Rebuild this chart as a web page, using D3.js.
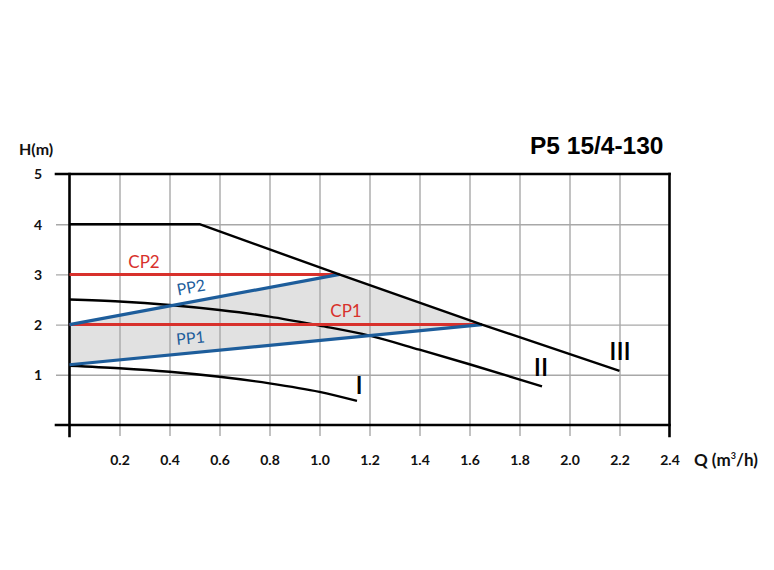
<!DOCTYPE html>
<html><head><meta charset="utf-8">
<script src="https://cdn.jsdelivr.net/npm/d3@7/dist/d3.min.js"></script>
<style>body{margin:0;background:#fff}svg{display:block}</style>
</head><body>
<svg id="c" width="774" height="570"></svg>
<script>
const title = "P5 15/4-130";
const xTicks = [0.2,0.4,0.6,0.8,1.0,1.2,1.4,1.6,1.8,2.0,2.2,2.4];
const yTicks = [1,2,3,4,5];
const curveIII = [[0,4],[0.52,4],[1.09,2.98],[1.65,2.0],[2.2,1.08]];
const curveII = [[0,2.5],[0.2,2.46],[0.4,2.39],[0.6,2.29],[0.8,2.16],[1.0,1.98],[1.2,1.78],[1.4,1.5],[1.6,1.21],[1.89,0.77]];
const curveI = [[0,1.18],[0.2,1.13],[0.4,1.06],[0.6,0.96],[0.8,0.83],[1.0,0.66],[1.15,0.48]];
const CP2 = [[0,3],[1.08,3]];
const PP2 = [[0,2],[1.08,3]];
const CP1 = [[0,2],[1.65,2]];
const PP1 = [[0,1.2],[1.65,2]];
const region = [[0,2],[1.08,3],[1.65,2],[0,1.2]];

const svg = d3.select("#c");
const x = d3.scaleLinear().domain([0,2.4]).range([69.5,669.5]);
const y = d3.scaleLinear().domain([0,5]).range([425,174]);
const font = "Lato, 'Open Sans', sans-serif";

// fill region
svg.append("path").attr("d", d3.line().x(d=>x(d[0])).y(d=>y(d[1]))(region)+"Z")
  .attr("fill","#e1e1e1");

// grid via axes
const gx = svg.append("g").attr("transform",`translate(0,${y(5)})`)
  .call(d3.axisBottom(x).tickValues(xTicks.filter(v=>v<2.4)).tickSize(436-y(5)).tickFormat(""));
gx.select(".domain").remove();
gx.selectAll("line").attr("stroke","#a8a8a8").attr("stroke-width",1.4);
const gy = svg.append("g").attr("transform",`translate(${x(2.4)},0)`)
  .call(d3.axisLeft(y).tickValues(yTicks.filter(v=>v<5)).tickSize(x(2.4)-56).tickFormat(""));
gy.select(".domain").remove();
gy.selectAll("line").attr("stroke","#a8a8a8").attr("stroke-width",1.4);

// frame
const frame = [
  [56,y(5),x(2.4),y(5)],
  [56,y(0),x(2.4),y(0)],
  [x(0),y(5),x(0),436],
  [x(2.4),y(5),x(2.4),436]
];
svg.selectAll(".fr").data(frame).enter().append("line")
  .attr("x1",d=>d[0]).attr("y1",d=>d[1]).attr("x2",d=>d[2]).attr("y2",d=>d[3])
  .attr("stroke","#000").attr("stroke-width",2.6).attr("stroke-linecap","square");

const line = d3.line().x(d=>x(d[0])).y(d=>y(d[1]));
const lineC = d3.line().x(d=>x(d[0])).y(d=>y(d[1])).curve(d3.curveMonotoneX);
function draw(data,color,w,gen){
  svg.append("path").attr("d",(gen||line)(data)).attr("fill","none")
    .attr("stroke",color).attr("stroke-width",w).attr("stroke-linejoin","round");
}
const red="#d8312c", blue="#1d5d9b";
draw(curveI,"#000",2.4,lineC);
draw(curveII,"#000",2.4,lineC);
draw(CP2,red,3);
draw(CP1,red,3);
draw(PP2,blue,3.2);
draw(PP1,blue,3.2);
draw(curveIII,"#000",2.4);

// axis labels
const ax = svg.append("g").attr("transform",`translate(0,${y(0)})`)
  .call(d3.axisBottom(x).tickValues(xTicks).tickSize(0).tickPadding(0).tickFormat(d3.format(".1f")));
ax.select(".domain").remove();
ax.selectAll("text").attr("y",40).attr("dy",null).attr("font-family",font).attr("font-weight","bold")
  .attr("font-size",14).attr("fill","#111");
const ay = svg.append("g").attr("transform",`translate(42,0)`)
  .call(d3.axisLeft(y).tickValues(yTicks).tickSize(0).tickPadding(0).tickFormat(d3.format("d")));
ay.select(".domain").remove();
ay.selectAll("text").attr("x",0).attr("dy","0.35em").attr("font-family",font).attr("font-weight","bold")
  .attr("font-size",14).attr("fill","#111");

svg.append("text").attr("x",19).attr("y",155).attr("font-family",font).attr("font-weight","bold")
  .attr("font-size",16).attr("fill","#111").text("H(m)");
const q = svg.append("text").attr("x",694).attr("y",466).attr("font-family",font).attr("font-weight","bold")
  .attr("font-size",17).attr("fill","#111");
q.append("tspan").text("Q (m");
q.append("tspan").attr("font-size",9).attr("dy",-7).text("3");
q.append("tspan").attr("dy",7).text("/h)");

svg.append("text").attr("x",530).attr("y",154).attr("font-family","'Liberation Sans', Arial, sans-serif")
  .attr("font-weight","bold").attr("font-size",24.5).attr("fill","#000").text(title);

// series labels
const labels = [
  {t:"CP2",q:0.298,h:3.12,c:red,r:0,s:17,w:"normal"},
  {t:"CP1",q:1.106,h:2.147,c:red,r:0,s:17,w:"normal"},
  {t:"PP2",q:0.49,h:2.63,c:blue,r:-10.7,s:16,w:"normal"},
  {t:"PP1",q:0.486,h:1.62,c:blue,r:-5.6,s:16,w:"normal"},
  {t:"I",q:1.158,h:0.62,c:"#000",r:0,s:25,w:"600"},
  {t:"II",q:1.886,h:0.98,c:"#000",r:0,s:25,w:"600"},
  {t:"III",q:2.202,h:1.29,c:"#000",r:0,s:25,w:"600"}
];
svg.selectAll(".lb").data(labels).enter().append("text")
  .attr("transform",d=>`translate(${x(d.q)},${y(d.h)}) rotate(${d.r})`)
  .attr("text-anchor","middle").attr("font-family",font).attr("font-size",d=>d.s)
  .attr("font-weight",d=>d.w).attr("fill",d=>d.c).text(d=>d.t);
</script>
</body></html>
